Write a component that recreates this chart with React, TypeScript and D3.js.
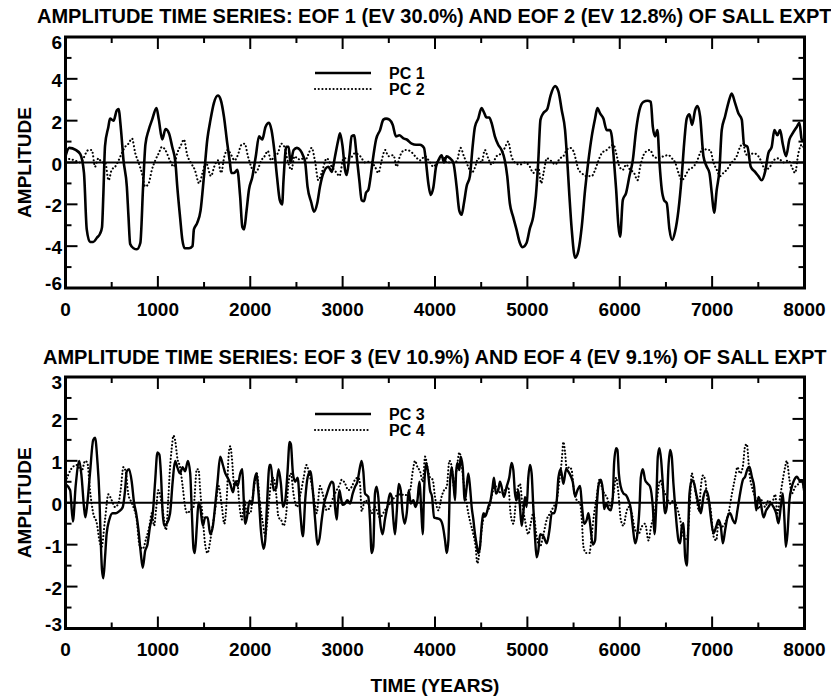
import React from "react";
import * as d3 from "d3";

// ---------- data (year, amplitude) ----------
const PC1: [number, number][] = [
  [0,0.3],[40,0.7],[110,0.6],[160,0.4],[200,-0.5],[230,-3.2],[265,-3.8],[300,-3.8],[340,-3.6],[374,-3.4],[395,-3.1],[410,-1.5],[428,0.8],[464,1.7],[482,2.1],[520,2.0],[556,2.5],[574,2.55],[600,1.6],[628,0.1],[664,-1.15],[682,-2.6],[700,-3.9],[736,-4.1],[773,-4.15],[810,-3.85],[840,-1.15],[865,0.85],[900,1.55],[938,2.05],[985,2.6],[1010,2.05],[1047,1.1],[1083,1.6],[1120,1.4],[1155,0.75],[1190,0],[1210,-1.15],[1240,-2.6],[1265,-3.7],[1290,-4.1],[1337,-4.1],[1375,-4.0],[1390,-3.2],[1425,-2.9],[1462,-2.3],[1498,-0.7],[1535,1.1],[1570,2.05],[1607,2.85],[1650,3.2],[1680,3.0],[1715,2.2],[1750,0.95],[1780,0],[1795,-0.5],[1825,-0.5],[1860,-0.35],[1890,-1.6],[1915,-3.1],[1933,-3.2],[1960,-2.3],[1986,-1.3],[2022,-0.7],[2060,0.3],[2095,1.25],[2130,1.1],[2165,1.7],[2203,1.9],[2230,1.55],[2260,0.6],[2290,-0.7],[2320,-1.8],[2345,-2.0],[2360,-0.85],[2390,0.75],[2415,0.75],[2435,0],[2470,0.6],[2505,0.7],[2540,0.6],[2570,0.35],[2595,0],[2620,-1.15],[2660,-1.9],[2690,-2.35],[2725,-1.95],[2755,-1.15],[2792,-0.5],[2846,-0.2],[2882,-0.45],[2918,0.3],[2954,1.1],[2972,1.4],[3000,0.75],[3026,-0.35],[3044,-0.6],[3073,0.3],[3098,1.25],[3124,1.3],[3152,0.3],[3181,-0.85],[3206,-1.8],[3232,-1.85],[3253,-1.45],[3279,-1.3],[3304,-0.65],[3326,0.1],[3362,1.1],[3405,1.55],[3441,2.05],[3470,2.1],[3506,2.05],[3542,1.8],[3578,1.25],[3614,1.3],[3658,1.15],[3694,1.1],[3748,0.9],[3795,0.85],[3838,0.85],[3881,0.7],[3903,0],[3928,-1.0],[3953,-1.55],[3982,-1.2],[4011,-0.2],[4036,0.1],[4072,0.35],[4097,0],[4126,0.3],[4162,0.2],[4198,0],[4234,-1.15],[4263,-2.3],[4288,-2.5],[4313,-1.95],[4342,-1.15],[4378,-0.65],[4407,0.75],[4432,1.7],[4468,2.1],[4504,2.6],[4530,2.4],[4558,2.15],[4587,2.15],[4612,1.9],[4648,1.25],[4684,0.85],[4720,0.6],[4756,0.1],[4782,-0.65],[4810,-1.95],[4846,-2.6],[4882,-3.2],[4919,-3.85],[4948,-4.05],[4991,-3.85],[5027,-3.15],[5063,-2.6],[5092,-1.6],[5117,0],[5142,2.05],[5171,2.35],[5215,2.55],[5251,3.2],[5300,3.65],[5336,3.4],[5372,2.5],[5408,1.55],[5433,0],[5455,-1.6],[5480,-3.2],[5517,-4.55],[5553,-4.2],[5589,-3.05],[5625,-1.3],[5661,0.1],[5697,1.25],[5733,2.1],[5758,2.6],[5787,2.35],[5823,2.1],[5859,1.55],[5895,1.55],[5914,1.25],[5939,0],[5961,-1.3],[5986,-3.05],[6004,-3.55],[6033,-1.8],[6069,-1.45],[6105,-0.65],[6141,0.1],[6177,1.55],[6213,2.5],[6257,2.9],[6300,2.95],[6336,2.9],[6358,1.7],[6383,1.25],[6408,1.55],[6430,0],[6455,-1.3],[6480,-1.8],[6509,-1.95],[6538,-3.2],[6567,-3.7],[6599,-3.3],[6635,-2.3],[6671,-0.65],[6697,0.9],[6725,2.1],[6754,2.3],[6783,1.8],[6816,2.5],[6841,2.7],[6870,2.2],[6906,0.3],[6942,-0.2],[6971,-0.5],[6996,-1.45],[7021,-2.4],[7050,-1.3],[7079,-0.35],[7104,1.55],[7140,2.2],[7176,2.85],[7212,3.3],[7248,2.85],[7284,2.35],[7321,2.05],[7346,0.85],[7382,0.75],[7418,-0.2],[7465,-0.45],[7501,-0.65],[7537,-0.85],[7573,-0.45],[7609,0.45],[7645,0.75],[7674,1.55],[7707,1.3],[7736,1.55],[7764,0.9],[7800,0.3],[7837,1.1],[7873,1.4],[7916,1.7],[7945,1.9],[7970,1.1],[8000,1.0]
];

const PC2: [number, number][] = [
  [0,0.2],[100,0.1],[160,0],[250,0.6],[285,0.6],[320,-0.2],[356,0.2],[395,0],[430,0],[466,-0.85],[500,-0.35],[538,-0.2],[575,0.1],[610,0.45],[646,0.75],[682,0.9],[720,1.15],[755,0.45],[790,0],[827,-0.5],[863,-1.15],[900,-1.0],[935,-0.35],[972,0.1],[1010,0.45],[1045,0.75],[1080,0.6],[1130,0.1],[1170,-0.2],[1210,0.45],[1252,0.85],[1282,1.1],[1318,0.35],[1355,0],[1400,-0.35],[1447,-1.0],[1483,-0.5],[1520,0],[1575,-0.65],[1610,-0.2],[1650,0.1],[1685,-0.5],[1720,0.3],[1757,0.6],[1795,0.35],[1830,0.1],[1865,0.35],[1905,0.85],[1940,0.9],[1975,0.3],[2010,-0.2],[2045,-0.5],[2080,-0.35],[2120,0.1],[2155,0.3],[2190,0.55],[2225,0.1],[2260,0.3],[2300,0.45],[2335,0.9],[2370,0.75],[2410,0],[2445,-0.35],[2480,0.3],[2520,0.15],[2555,0.2],[2590,0.05],[2625,0.35],[2665,0.7],[2700,0.1],[2737,-0.85],[2773,-0.5],[2828,0.2],[2882,-0.2],[2936,-0.5],[2965,-0.65],[3010,0.2],[3080,0.2],[3135,0.45],[3190,0.3],[3245,0],[3300,0.05],[3350,-0.2],[3387,-0.5],[3423,0.1],[3460,0.6],[3495,0.3],[3550,0.35],[3585,-0.2],[3620,0.3],[3675,0.6],[3730,0.55],[3785,0.3],[3838,0.1],[3892,0.3],[3946,0],[3982,-0.2],[4036,0.1],[4090,0.3],[4126,0],[4180,0],[4234,0.05],[4277,0.7],[4313,0.3],[4360,-0.2],[4396,-0.5],[4432,-0.25],[4468,0.2],[4504,0],[4540,0.6],[4576,0.2],[4612,-0.1],[4666,0.3],[4720,0.45],[4756,0.7],[4792,1.0],[4828,0.3],[4864,0],[4919,-0.1],[4973,0],[5027,-0.2],[5063,-0.5],[5117,-0.2],[5150,-1.0],[5175,-0.5],[5210,0.2],[5264,0.05],[5300,-0.1],[5354,0.2],[5390,0.3],[5426,0.6],[5462,0.7],[5498,0.55],[5527,0.1],[5553,-0.35],[5589,-0.5],[5625,-0.65],[5661,-0.65],[5697,-0.65],[5733,-0.35],[5770,0.1],[5806,0.45],[5859,0.6],[5895,0.75],[5932,0.85],[5961,0.45],[5997,-0.2],[6033,-0.35],[6069,-0.1],[6112,-0.35],[6155,-0.5],[6192,-0.85],[6221,-0.2],[6257,0.35],[6293,0.55],[6329,0.6],[6365,0.3],[6419,0.2],[6474,0.3],[6528,0.35],[6564,0.2],[6600,0],[6636,-0.5],[6672,-0.85],[6708,-0.65],[6745,-0.35],[6799,-0.2],[6835,0.05],[6870,0.45],[6906,0.7],[6942,0.6],[6978,0.6],[7015,0],[7050,-0.35],[7086,-0.65],[7122,-0.5],[7158,-0.35],[7212,0],[7266,0.3],[7303,0.75],[7339,0.9],[7357,0.5],[7393,0.3],[7447,0.45],[7501,0.3],[7537,0],[7573,-0.35],[7627,-0.2],[7663,0.1],[7718,0.2],[7772,0],[7826,0.1],[7862,-0.2],[7898,-0.5],[7934,0.45],[7970,0.85],[8000,0.6]
];

const PC3: [number, number][] = [
  [0,0.45],[50,0.3],[80,-0.45],[110,0.4],[150,1.0],[175,0.6],[200,-0.1],[215,-0.35],[237,0],[265,0.7],[300,1.5],[320,1.55],[345,1.0],[367,0.15],[380,-0.8],[395,-1.6],[410,-1.8],[428,-1.3],[445,-0.75],[475,-0.4],[510,-0.25],[546,-0.25],[583,-0.2],[620,-0.1],[645,0.3],[663,0.75],[688,0.8],[717,0.5],[742,0],[765,-0.25],[790,-0.65],[815,-1.2],[836,-1.55],[862,-1.15],[887,-1.0],[916,-0.55],[945,-0.25],[970,0.5],[995,1.2],[1016,1.15],[1034,0.65],[1052,-0.25],[1070,-0.55],[1096,-0.5],[1132,-0.25],[1160,0.5],[1186,1.0],[1210,0.85],[1240,0.7],[1268,0.85],[1295,0.75],[1325,1.0],[1350,0.7],[1368,-0.25],[1386,-1.1],[1400,-1.2],[1422,-0.55],[1440,0],[1458,-0.1],[1487,-0.55],[1512,-0.35],[1538,-0.35],[1567,-0.75],[1596,-0.55],[1621,-0.05],[1646,0.5],[1675,1.1],[1704,0.9],[1730,0.7],[1755,0.6],[1784,0.45],[1813,0.25],[1838,0.5],[1863,0.4],[1892,0.7],[1914,0.8],[1928,0.15],[1946,-0.5],[1964,-0.35],[1993,0.05],[2018,-0.05],[2044,0.5],[2065,0.7],[2090,0.2],[2115,-0.65],[2144,-1.1],[2162,-0.9],[2180,-0.1],[2209,0.9],[2223,0.9],[2252,0.3],[2281,0.35],[2306,0.8],[2332,0.45],[2354,-0.1],[2379,0.05],[2404,0.75],[2426,1.45],[2440,1.4],[2462,0.7],[2487,0.5],[2513,0.6],[2542,-0.25],[2570,-0.8],[2596,0.1],[2621,0.6],[2650,0.75],[2679,0.25],[2704,-0.45],[2728,-1.0],[2750,-0.85],[2774,-0.4],[2799,-0.02],[2828,0.2],[2857,0.4],[2882,0.5],[2900,0.46],[2918,-0.1],[2936,-0.4],[2947,-0.1],[2965,0.3],[2980,0.14],[3000,-0.05],[3026,-0.02],[3051,0.06],[3080,-0.02],[3109,0.22],[3134,0.38],[3160,0.5],[3188,0.85],[3206,1.0],[3224,0.75],[3242,0.22],[3260,0.18],[3278,0.14],[3296,-0.4],[3314,-1.2],[3332,-1.05],[3350,0.22],[3368,0.38],[3386,0.14],[3404,-0.4],[3433,-0.75],[3458,-0.4],[3484,-0.1],[3513,0.22],[3531,0.14],[3549,-0.4],[3567,-0.75],[3585,-0.25],[3607,0.45],[3629,0.3],[3650,-0.25],[3672,-0.5],[3694,-0.25],[3716,0.3],[3737,-0.02],[3766,0.06],[3788,-0.1],[3810,0.06],[3831,0.5],[3853,-0.25],[3867,-0.75],[3882,0.3],[3903,0.95],[3921,0.78],[3946,0.3],[3968,0.14],[3990,-0.35],[4019,-0.37],[4055,-0.4],[4084,-0.55],[4109,-0.9],[4127,-1.2],[4145,-0.89],[4163,0.5],[4181,0.85],[4199,0.5],[4217,0.06],[4228,0.7],[4242,0.95],[4264,0.78],[4278,1.1],[4300,0.85],[4322,0.05],[4343,0.38],[4361,0.7],[4379,0.38],[4397,-0.1],[4415,-0.4],[4433,-0.75],[4451,-1.0],[4469,-1.2],[4487,-1.05],[4505,-0.55],[4523,-0.25],[4541,-0.33],[4559,-0.25],[4577,-0.1],[4602,0.06],[4624,0.38],[4638,0.6],[4660,0.22],[4685,0.3],[4703,0.5],[4721,0.38],[4746,0.14],[4775,0.38],[4804,0.6],[4829,0.95],[4848,0.78],[4866,0.22],[4884,0.06],[4902,0.3],[4920,-0.1],[4938,-0.55],[4956,-0.25],[4974,0.14],[4992,-0.1],[5010,0.6],[5028,0.9],[5046,0.7],[5064,-0.1],[5082,-0.8],[5100,-1.3],[5118,-1.15],[5138,-0.75],[5174,-0.8],[5210,-0.97],[5239,-0.65],[5264,-0.25],[5289,-0.25],[5318,0.05],[5336,0.6],[5361,0.8],[5390,0.45],[5419,0.8],[5455,0.7],[5491,0.5],[5517,0.15],[5542,0.3],[5571,0.4],[5589,-0.02],[5614,-0.5],[5643,-0.4],[5661,-0.25],[5679,-0.5],[5708,-1.0],[5733,-0.9],[5751,-0.1],[5769,0.4],[5795,0.55],[5817,0.3],[5831,-0.15],[5853,-0.02],[5878,-0.14],[5903,-0.18],[5925,0.14],[5939,0.95],[5961,1.3],[5975,1.26],[5990,0.7],[6011,0.38],[6040,0.22],[6069,0.18],[6094,0.06],[6120,-0.15],[6141,-0.57],[6167,-0.97],[6192,-0.73],[6214,-0.1],[6228,0.6],[6250,0.8],[6275,0.54],[6300,0.46],[6329,0.38],[6358,-0.1],[6376,-0.75],[6394,-0.1],[6412,1.1],[6430,1.3],[6448,1.02],[6466,0.46],[6491,-0.25],[6509,-0.1],[6527,0.85],[6545,1.26],[6563,1.1],[6581,0.46],[6600,-0.1],[6618,-0.57],[6636,-0.9],[6654,-0.97],[6672,-0.57],[6690,-0.49],[6708,-1.3],[6726,-1.5],[6740,-0.73],[6755,0.22],[6780,0.54],[6805,0.46],[6827,0.22],[6852,-0.02],[6878,-0.25],[6906,0.14],[6932,0.3],[6960,0.14],[6985,-0.33],[7015,-0.73],[7044,-0.57],[7069,-0.41],[7094,-0.57],[7116,-0.97],[7141,-0.65],[7166,-0.35],[7195,-0.25],[7224,-0.41],[7249,-0.49],[7274,-0.18],[7303,0.22],[7332,0.54],[7357,0.62],[7382,0.8],[7404,0.86],[7430,0.62],[7455,0.38],[7477,-0.18],[7502,0.14],[7527,-0.02],[7556,-0.35],[7585,-0.18],[7610,-0.1],[7635,-0.02],[7664,-0.1],[7693,-0.25],[7718,-0.49],[7743,-0.1],[7765,0.22],[7783,-0.41],[7798,-1.05],[7816,-0.73],[7837,0.06],[7863,0.38],[7888,0.54],[7917,0.62],[7946,0.54],[7971,0.54],[8000,0.22]
];

const PC4: [number, number][] = [
  [0,0.5],[60,0.8],[120,0.9],[175,0.75],[212,1.0],[237,0.95],[265,0.3],[300,-0.25],[340,-0.5],[367,-0.9],[390,-1.05],[428,-0.4],[464,0.2],[500,0.06],[535,-0.1],[572,-0.02],[597,0.3],[627,0.85],[655,0.7],[680,0.2],[706,0.05],[735,-0.1],[771,-0.4],[800,-1.0],[836,-1.1],[873,-0.85],[909,-0.55],[934,-0.25],[959,-0.55],[981,-0.15],[1005,0.3],[1042,-0.02],[1067,-0.4],[1088,-0.65],[1114,0.15],[1132,0.85],[1150,1.3],[1168,1.6],[1186,1.5],[1212,1.05],[1240,0.85],[1268,0.4],[1295,-0.1],[1320,-0.25],[1350,-0.18],[1386,-0.1],[1422,0.8],[1440,0.8],[1458,0.3],[1487,-0.4],[1512,-1.0],[1538,-1.2],[1567,-0.9],[1596,-0.5],[1621,-0.15],[1657,0.4],[1693,-0.1],[1719,-0.5],[1748,0.2],[1765,1.1],[1784,1.35],[1802,1.05],[1827,0.4],[1856,0.55],[1885,-0.1],[1910,-0.4],[1935,0.06],[1964,-0.25],[2000,-0.25],[2036,0.3],[2072,0.7],[2101,0.06],[2137,-0.5],[2162,-0.8],[2188,-0.35],[2224,0.45],[2252,0.6],[2281,0.2],[2306,-0.35],[2332,-0.4],[2361,-0.55],[2390,-0.25],[2415,0.5],[2440,0.7],[2469,0.2],[2505,-0.1],[2542,0.2],[2578,0.6],[2607,0.9],[2632,0.75],[2668,0.4],[2704,-0.1],[2719,-0.25],[2755,0.4],[2784,0.22],[2828,-0.18],[2864,-0.1],[2900,0.14],[2936,0.3],[2972,0.45],[2990,0.55],[3026,0.46],[3062,0.3],[3098,0.38],[3134,0.55],[3170,0.6],[3188,0.46],[3206,-0.2],[3242,0.06],[3278,-0.02],[3314,-0.25],[3350,-0.1],[3404,-0.35],[3458,-0.18],[3513,-0.02],[3567,0.14],[3621,0.2],[3675,0.18],[3730,0.3],[3759,0.75],[3784,1.0],[3810,0.85],[3838,0.75],[3867,0.5],[3893,1.1],[3918,0.85],[3946,0.6],[3975,0.55],[4000,0.14],[4036,-0.18],[4072,0.15],[4098,0.3],[4127,0.38],[4156,1.0],[4181,0.86],[4206,0.38],[4235,0.8],[4264,1.2],[4285,1.0],[4307,0.54],[4332,0.14],[4361,-0.25],[4386,-0.5],[4415,-0.75],[4440,-1.05],[4458,-1.45],[4480,-1.2],[4505,-0.65],[4541,-0.25],[4577,-0.18],[4613,0.15],[4649,0.4],[4685,0.3],[4721,0.22],[4757,0.3],[4793,0.38],[4818,-0.25],[4848,-0.5],[4884,0.22],[4920,0.45],[4948,-0.1],[4974,-0.41],[5010,-0.75],[5036,-0.49],[5064,-0.25],[5100,-0.8],[5136,-1.05],[5174,-0.75],[5210,-0.4],[5246,-0.25],[5282,-0.1],[5318,0.06],[5347,0.55],[5372,1.0],[5390,1.45],[5408,1.2],[5426,0.8],[5455,0.85],[5480,0.78],[5498,0.4],[5534,0.06],[5571,-0.02],[5589,-0.4],[5607,-1.05],[5636,-1.2],[5672,-1.2],[5697,-0.75],[5723,-0.25],[5751,0.14],[5780,0.55],[5806,0.38],[5831,0.22],[5860,0.14],[5896,-0.1],[5932,0.22],[5961,0.6],[5986,0.22],[6011,-0.4],[6040,-0.55],[6069,-0.25],[6094,-0.1],[6130,-0.25],[6166,-0.65],[6202,-0.75],[6238,-0.57],[6275,-0.5],[6311,-0.9],[6340,-0.55],[6365,-0.35],[6401,0.06],[6437,0.54],[6473,0.3],[6509,0.14],[6545,-0.02],[6581,0.06],[6618,-0.1],[6654,-0.4],[6690,-0.8],[6726,-0.89],[6755,-0.18],[6780,0.7],[6805,0.46],[6835,0.06],[6857,-0.2],[6878,0.38],[6900,0.65],[6925,0.54],[6950,0.06],[6980,-0.1],[7015,-0.8],[7044,-0.9],[7069,-0.49],[7105,-0.57],[7141,-0.49],[7177,-0.25],[7213,0.2],[7249,0.6],[7274,0.85],[7303,0.7],[7332,0.86],[7357,1.35],[7375,1.4],[7404,0.7],[7440,0.3],[7465,0.14],[7502,-0.15],[7538,0.06],[7574,-0.1],[7610,0.06],[7646,-0.02],[7682,0.2],[7707,-0.25],[7736,0.14],[7765,0.55],[7790,0.85],[7808,1.0],[7837,0.55],[7863,0.22],[7899,0.38],[7935,0.45],[7971,0.55],[8000,0.22]
];

const X_TICKS = [0, 1000, 2000, 3000, 4000, 5000, 6000, 7000, 8000];
const X_MINOR = [500, 1500, 2500, 3500, 4500, 5500, 6500, 7500];
const TOP_Y_TICKS = [-6, -4, -2, 0, 2, 4, 6];
const TOP_Y_MINOR = [-5, -3, -1, 1, 3, 5];
const BOT_Y_TICKS = [-3, -2, -1, 0, 1, 2, 3];
const BOT_Y_MINOR = [-2.5, -1.5, -0.5, 0.5, 1.5, 2.5];

const TITLE_1 = "AMPLITUDE TIME SERIES: EOF 1 (EV 30.0%) AND EOF 2 (EV 12.8%) OF SALL EXPT";
const TITLE_2 = "AMPLITUDE TIME SERIES: EOF 3 (EV 10.9%) AND EOF 4 (EV 9.1%) OF SALL EXPT";

const FONT = "'Liberation Sans', Arial, Helvetica, sans-serif";

const x = d3.scaleLinear().domain([0, 8000]).range([65.5, 804.5]);

type PanelProps = {
  id: string;
  top: number;
  bottom: number;
  ymax: number;
  yTicks: number[];
  yMinor: number[];
  title: string;
  titleX: number;
  titleY: number;
  solid: [number, number][];
  dotted: [number, number][];
  solidW: number;
  names: [string, string];
  legendY: number;
  dash: string;
};

function Panel(p: PanelProps) {
  const y = d3.scaleLinear().domain([-p.ymax, p.ymax]).range([p.bottom, p.top]);
  const line = d3
    .line<[number, number]>()
    .x((d) => x(d[0]))
    .y((d) => y(d[1]))
    .curve(d3.curveMonotoneX);
  const [x0, x1] = x.range();
  const MAJ = 12, MIN = 6;
  return (
    <g>
      <defs>
        <clipPath id={p.id}>
          <rect x={x0} y={p.top} width={x1 - x0} height={p.bottom - p.top} />
        </clipPath>
      </defs>
      <text x={p.titleX} y={p.titleY} fontFamily={FONT} fontWeight="bold" fontSize={20} fill="#000">
        {p.title}
      </text>
      <g clipPath={`url(#${p.id})`}>
        <path d={line(p.dotted) || ""} fill="none" stroke="#000" strokeWidth={2.1}
          strokeDasharray={p.dash} strokeLinecap="round" />
        <path d={line(p.solid) || ""} fill="none" stroke="#000" strokeWidth={p.solidW}
          strokeLinejoin="round" />
      </g>
      <line x1={x0} x2={x1} y1={y(0)} y2={y(0)} stroke="#000" strokeWidth={2} />
      {X_TICKS.map((t) => (
        <g key={"xt" + t}>
          <line x1={x(t)} x2={x(t)} y1={p.top} y2={p.top + MAJ} stroke="#000" strokeWidth={2} />
          <line x1={x(t)} x2={x(t)} y1={p.bottom} y2={p.bottom - MAJ} stroke="#000" strokeWidth={2} />
          <text x={x(t)} y={p.bottom + 21} textAnchor="middle" dominantBaseline="central"
            fontFamily={FONT} fontWeight="bold" fontSize={19}>{t}</text>
        </g>
      ))}
      {X_MINOR.map((t) => (
        <g key={"xm" + t}>
          <line x1={x(t)} x2={x(t)} y1={p.top} y2={p.top + MIN} stroke="#000" strokeWidth={2} />
          <line x1={x(t)} x2={x(t)} y1={p.bottom} y2={p.bottom - MIN} stroke="#000" strokeWidth={2} />
        </g>
      ))}
      {p.yTicks.map((t, i) => {
        let ly = y(t) + 1.5;
        if (i === p.yTicks.length - 1) ly = y(t) + 5.5;
        if (i === 0) ly = y(t) - 4.5;
        return (
          <g key={"yt" + t}>
            <line x1={x0} x2={x0 + MAJ} y1={y(t)} y2={y(t)} stroke="#000" strokeWidth={2} />
            <line x1={x1} x2={x1 - MAJ} y1={y(t)} y2={y(t)} stroke="#000" strokeWidth={2} />
            <text x={62} y={ly} textAnchor="end" dominantBaseline="central"
              fontFamily={FONT} fontWeight="bold" fontSize={19}>{t}</text>
          </g>
        );
      })}
      {p.yMinor.map((t) => (
        <g key={"ym" + t}>
          <line x1={x0} x2={x0 + MIN} y1={y(t)} y2={y(t)} stroke="#000" strokeWidth={2} />
          <line x1={x1} x2={x1 - MIN} y1={y(t)} y2={y(t)} stroke="#000" strokeWidth={2} />
        </g>
      ))}
      <rect x={x0} y={p.top} width={x1 - x0} height={p.bottom - p.top} fill="none"
        stroke="#000" strokeWidth={3} />
      <text transform={`translate(24,${y(0)}) rotate(-90)`} textAnchor="middle"
        dominantBaseline="central" fontFamily={FONT} fontWeight="bold" fontSize={19}>
        AMPLITUDE
      </text>
      <line x1={315} x2={371} y1={p.legendY} y2={p.legendY} stroke="#000" strokeWidth={p.solidW} />
      <line x1={315} x2={371} y1={p.legendY + 16} y2={p.legendY + 16} stroke="#000"
        strokeWidth={2.1} strokeDasharray={p.dash} strokeLinecap="round" />
      <text x={389} y={p.legendY} dominantBaseline="central" fontFamily={FONT}
        fontWeight="bold" fontSize={16}>{p.names[0]}</text>
      <text x={389} y={p.legendY + 16} dominantBaseline="central" fontFamily={FONT}
        fontWeight="bold" fontSize={16}>{p.names[1]}</text>
    </g>
  );
}

export default function App() {
  return (
    <svg width={831} height={699} style={{ display: "block", position: "absolute", left: 0, top: 0, background: "#fff" }}>
      <rect x={0} y={0} width={831} height={699} fill="#fff" />
      <Panel id="c1" top={37} bottom={288} ymax={6} yTicks={TOP_Y_TICKS} yMinor={TOP_Y_MINOR}
        title={TITLE_1} titleX={37} titleY={23} solid={PC1} dotted={PC2} solidW={2.6}
        names={["PC 1", "PC 2"]} legendY={73} dash="0.1 3.6" />
      <Panel id="c2" top={377} bottom={628.5} ymax={3} yTicks={BOT_Y_TICKS} yMinor={BOT_Y_MINOR}
        title={TITLE_2} titleX={43} titleY={364} solid={PC3} dotted={PC4} solidW={2.4}
        names={["PC 3", "PC 4"]} legendY={414} dash="0.1 3.4" />
      <text x={435} y={685} textAnchor="middle" dominantBaseline="central" fontFamily={FONT}
        fontWeight="bold" fontSize={19}>TIME (YEARS)</text>
    </svg>
  );
}
